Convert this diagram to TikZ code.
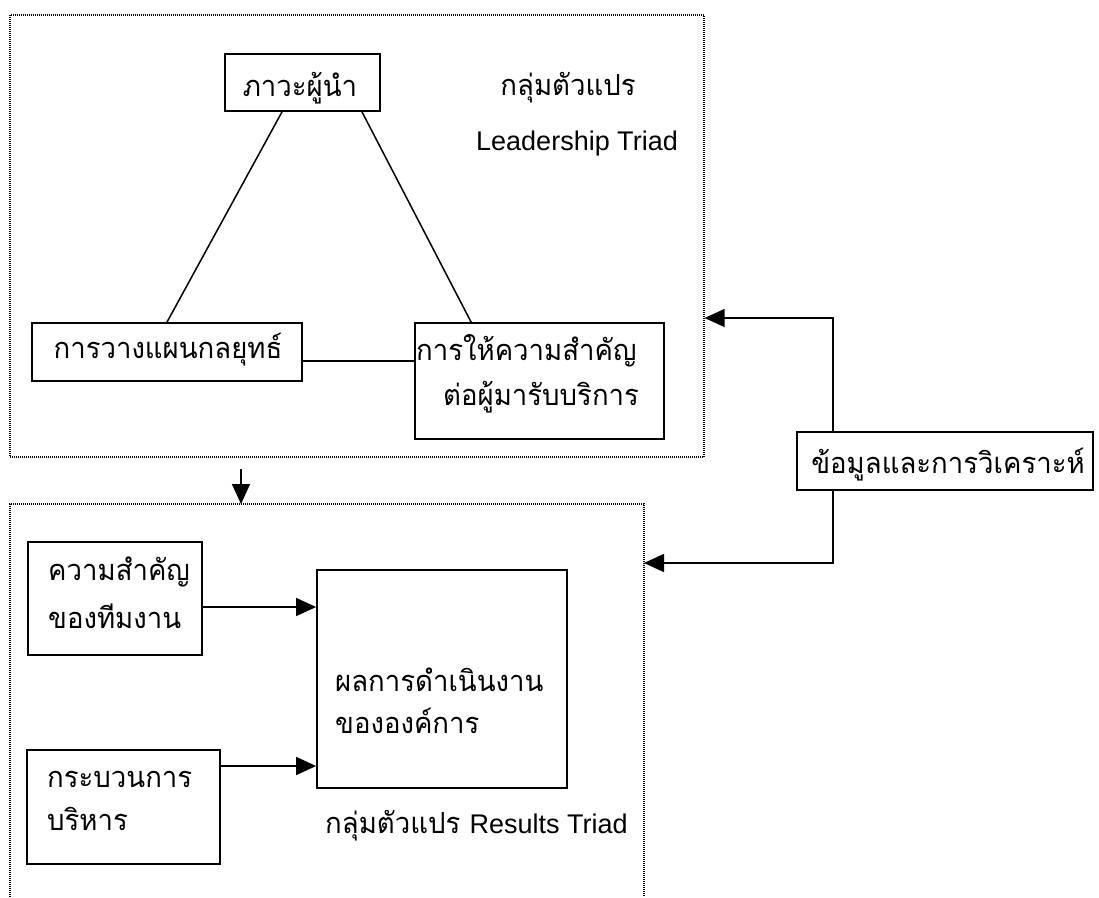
\documentclass[tikz,border=0pt]{standalone}
\usepackage{fontspec}
\setmainfont{Liberation Sans}
\newfontfamily\thai[Script=Thai, FakeStretch=0.95]{Loma}
\usetikzlibrary{arrows.meta,calc}
\begin{document}
\begin{tikzpicture}[x=1pt,y=-1pt,
  box/.style={draw, line width=1.8pt, inner sep=0pt},
  group/.style={draw, dash pattern=on 1pt off 1pt, line width=1.2pt, inner sep=0pt},
  conn/.style={line width=1.5pt},
  arr/.style={conn, -{Triangle[length=20pt,width=18pt]}},
  th/.style={font=\thai\fontsize{29}{32}\selectfont, inner sep=0pt},
  en/.style={font=\fontsize{27}{30}\selectfont, inner sep=0pt}]
\useasboundingbox (0,0) rectangle (1099,897);
\fill[white] (0,0) rectangle (1099,897);

% group frames
\node[group, minimum width=694pt, minimum height=442pt] (topgroup) at (357,236) {};
\coordinate (botTL) at (10,504);
\coordinate (botTR) at (644,504);
\draw[dash pattern=on 1pt off 1pt, line width=1.2pt] (10,897) -- (botTL) -- (botTR) -- (644,897);

% boxes of the leadership triad
\node[box, minimum width=155pt, minimum height=57pt] (leader) at (302.5,82.5) {};
\node[box, minimum width=270pt, minimum height=58pt] (plan) at (167,352) {};
\node[box, minimum width=249pt, minimum height=116pt] (cust) at (539.5,381) {};

% boxes of the results triad
\node[box, minimum width=174pt, minimum height=113pt] (team) at (115,598.5) {};
\node[box, minimum width=193pt, minimum height=114pt] (proc) at (123.5,807) {};
\node[box, minimum width=250pt, minimum height=218pt] (result) at (442,679) {};

% data box
\node[box, minimum width=296pt, minimum height=58pt] (data) at (945,461) {};

% texts
\node[th, anchor=base] (tleader) at (300,96) {ภาวะผู้นำ};
\node[th, anchor=base] (tplan) at (168,358) {การวางแผนกลยุทธ์};
\node[th, anchor=base west] (tcust1) at (416,360) {การให้ความสำคัญ};
\node[th, anchor=base west] (tcust2) at (443,405) {ต่อผู้มารับบริการ};
\node[th, anchor=base] (tgroup1) at (568,95) {กลุ่มตัวแปร};
\node[en, anchor=base] (tgroup2) at (577,150) {Leadership Triad};
\node[th, anchor=base west] (tteam1) at (48,580) {ความสำคัญ};
\node[th, anchor=base west] (tteam2) at (48,628) {ของทีมงาน};
\node[th, anchor=base west] (tres1) at (335,691) {ผลการดำเนินงาน};
\node[th, anchor=base west] (tres2) at (335,733) {ขององค์การ};
\node[th, anchor=base west] (tproc1) at (47,787) {กระบวนการ};
\node[th, anchor=base west] (tproc2) at (47,830) {บริหาร};
\node[th, anchor=base west] (tresgroup) at (325,833) {กลุ่มตัวแปร {\fontspec{Liberation Sans}\fontsize{27}{30}\selectfont Results Triad}};
\node[th, anchor=base] (tdata) at (948,473) {ข้อมูลและการวิเคราะห์};

% triad connectors
\draw[conn] ($(leader.south)+(-20.5,0)$) -- (plan.north);
\draw[conn] ($(leader.south)+(59.5,0)$) -- ($(cust.north west)+(57,0)$);
\draw[conn] ($(plan.east)+(0,9)$) -- ($(cust.west)+(0,-20)$);

% flow arrows
\coordinate (downStart) at (241,469);
\draw[arr] (downStart) -- (downStart |- botTL);
\draw[arr] ($(team.east)+(0,8.5)$) -- ($(result.west)+(0,-72)$);
\draw[arr] ($(proc.east)+(0,-41)$) -- ($(result.west)+(0,87)$);

% feedback from data
\coordinate (upY) at (0,318);
\coordinate (lowY) at (0,563);
\draw[arr] ($(data.north west)+(37,0)$) |- (topgroup.east |- upY);
\draw[arr] ($(data.south west)+(37,0)$) |- (botTR |- lowY);
\end{tikzpicture}
\end{document}
